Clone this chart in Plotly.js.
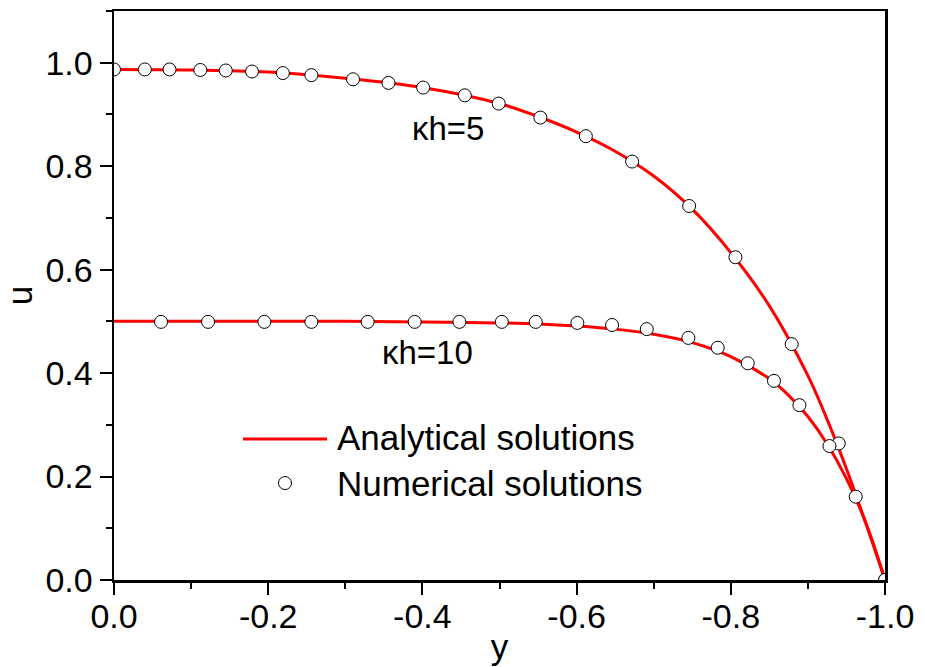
<!DOCTYPE html>
<html>
<head>
<meta charset="utf-8">
<script src="https://cdn.plot.ly/plotly-3.0.1.min.js"></script>
<style>html,body{margin:0;padding:0;background:#fff;}#chart{width:925px;height:667px;}</style>
</head>
<body>
<div id="chart"></div>
<script>
// Analytical curves
var x5Line  = [0, -0.1, -0.2, -0.3, -0.4, -0.5, -0.55, -0.6, -0.65, -0.7, -0.75, -0.8, -0.85, -0.9, -0.925, -0.95, -0.975, -1.0];
var u5Line  = [0.987, 0.986, 0.982, 0.970, 0.952, 0.921, 0.896, 0.866, 0.829, 0.781, 0.717, 0.633, 0.530, 0.395, 0.310, 0.215, 0.110, 0];
var x10Line = [0, -0.1, -0.2, -0.3, -0.4, -0.5, -0.55, -0.6, -0.65, -0.7, -0.75, -0.8, -0.85, -0.875, -0.9, -0.925, -0.95, -0.975, -1.0];
var u10Line = [0.5, 0.5, 0.5, 0.5, 0.499, 0.497, 0.495, 0.491, 0.485, 0.475, 0.459, 0.432, 0.389, 0.357, 0.316, 0.263, 0.196, 0.111, 0];

// Numerical solutions (circles)
var x5Num  = [0, -0.040, -0.072, -0.112, -0.145, -0.179, -0.219, -0.256, -0.310, -0.356, -0.401, -0.455, -0.499, -0.553, -0.612, -0.672, -0.746, -0.806, -0.879, -0.940, -0.962, -1.0];
var u5Num  = [0.987, 0.987, 0.987, 0.986, 0.985, 0.983, 0.980, 0.976, 0.968, 0.961, 0.952, 0.937, 0.921, 0.894, 0.858, 0.809, 0.723, 0.624, 0.456, 0.264, 0.161, 0];
var x10Num = [-0.061, -0.122, -0.195, -0.256, -0.329, -0.390, -0.448, -0.503, -0.547, -0.601, -0.646, -0.691, -0.745, -0.783, -0.822, -0.856, -0.889, -0.928, -1.0];
var u10Num = [0.499, 0.499, 0.499, 0.499, 0.499, 0.499, 0.499, 0.499, 0.499, 0.497, 0.493, 0.485, 0.468, 0.449, 0.419, 0.385, 0.338, 0.259, 0];

// Tick labels
var xTickVals = [0, -0.2, -0.4, -0.6, -0.8, -1.0];
var xTickText = ['0.0', '-0.2', '-0.4', '-0.6', '-0.8', '-1.0'];
var yTickVals = [0, 0.2, 0.4, 0.6, 0.8, 1.0];
var yTickText = ['0.0', '0.2', '0.4', '0.6', '0.8', '1.0'];

var curveLabels = ['κh=5', 'κh=10'];
var legendLabels = ['Analytical solutions', 'Numerical solutions'];
var xTitle = 'y', yTitle = 'u';

var FONT = '"Liberation Sans", Arial, sans-serif';
var lineStyle = {color: '#ff0000', width: 3, shape: 'spline'};
var markStyle = {symbol: 'circle', size: 13, color: '#ffffff', line: {color: '#000000', width: 1}};

var traces = [
  {x: x5Line, y: u5Line, mode: 'lines', line: lineStyle, showlegend: false, hoverinfo: 'skip'},
  {x: x10Line, y: u10Line, mode: 'lines', line: lineStyle, showlegend: false, hoverinfo: 'skip'},
  {x: x5Num, y: u5Num, mode: 'markers', marker: markStyle, showlegend: false},
  {x: x10Num, y: u10Num, mode: 'markers', marker: markStyle, showlegend: false}
];

var axisCommon = {
  showgrid: false, zeroline: false, showline: true, linecolor: '#000', linewidth: 2.5, mirror: true,
  ticks: 'outside', ticklen: 12, tickwidth: 2, tickcolor: '#000', tickmode: 'array',
  tickfont: {family: FONT, size: 34, color: '#000'},
  minor: {ticks: 'outside', ticklen: 6, tickwidth: 2, tickcolor: '#000', dtick: 0.1, tick0: 0}
};
var mirrorCommon = {
  showgrid: false, zeroline: false, showline: false, showticklabels: false,
  ticks: 'outside', ticklen: 3, tickwidth: 2, tickcolor: '#000', dtick: 0.1, tick0: 0
};

var layout = {
  width: 925, height: 667,
  margin: {l: 114, r: 40, t: 11, b: 87},
  paper_bgcolor: '#fff', plot_bgcolor: '#fff',
  showlegend: false,
  font: {family: FONT, color: '#000'},
  xaxis: Object.assign({}, axisCommon, {
    range: [0, -1], autorange: false, tickvals: xTickVals, ticktext: xTickText, ticklabelstandoff: -7,
    title: {text: xTitle, font: {family: FONT, size: 35, color: '#000'}, standoff: 0}
  }),
  yaxis: Object.assign({}, axisCommon, {
    range: [0, 1.1], autorange: false, tickvals: yTickVals, ticktext: yTickText,
    title: {text: yTitle, font: {family: FONT, size: 35, color: '#000'}, standoff: 8}
  }),
  xaxis2: Object.assign({}, mirrorCommon, {overlaying: 'x', anchor: 'y', side: 'top', range: [0, -1], autorange: false}),
  yaxis2: Object.assign({}, mirrorCommon, {overlaying: 'y', anchor: 'x', side: 'right', range: [0, 1.1], autorange: false}),
  annotations: [
    {x: -0.433, y: 0.873, xref: 'x', yref: 'y', text: curveLabels[0], showarrow: false, font: {family: FONT, size: 33, color: '#000'}},
    {x: -0.407, y: 0.440, xref: 'x', yref: 'y', text: curveLabels[1], showarrow: false, font: {family: FONT, size: 33, color: '#000'}},
    {x: 0.286, y: 0.2512, xref: 'paper', yref: 'paper', xanchor: 'left', yanchor: 'middle', text: legendLabels[0], showarrow: false, font: {family: FONT, size: 35, color: '#000'}},
    {x: 0.286, y: 0.1704, xref: 'paper', yref: 'paper', xanchor: 'left', yanchor: 'middle', text: legendLabels[1], showarrow: false, font: {family: FONT, size: 35, color: '#000'}}
  ],
  shapes: [
    {type: 'line', xref: 'paper', yref: 'paper', x0: 0.1673, x1: 0.2763, y0: 0.2477, y1: 0.2477, line: {color: '#ff0000', width: 3}},
    {type: 'circle', xref: 'paper', yref: 'paper', xsizemode: 'pixel', ysizemode: 'pixel', xanchor: 0.2218, yanchor: 0.1704,
     x0: -6.5, x1: 6.5, y0: -6.5, y1: 6.5, fillcolor: '#fff', line: {color: '#000', width: 1}}
  ]
};

Plotly.newPlot('chart', traces, layout, {displayModeBar: false, staticPlot: true});
</script>
</body>
</html>
